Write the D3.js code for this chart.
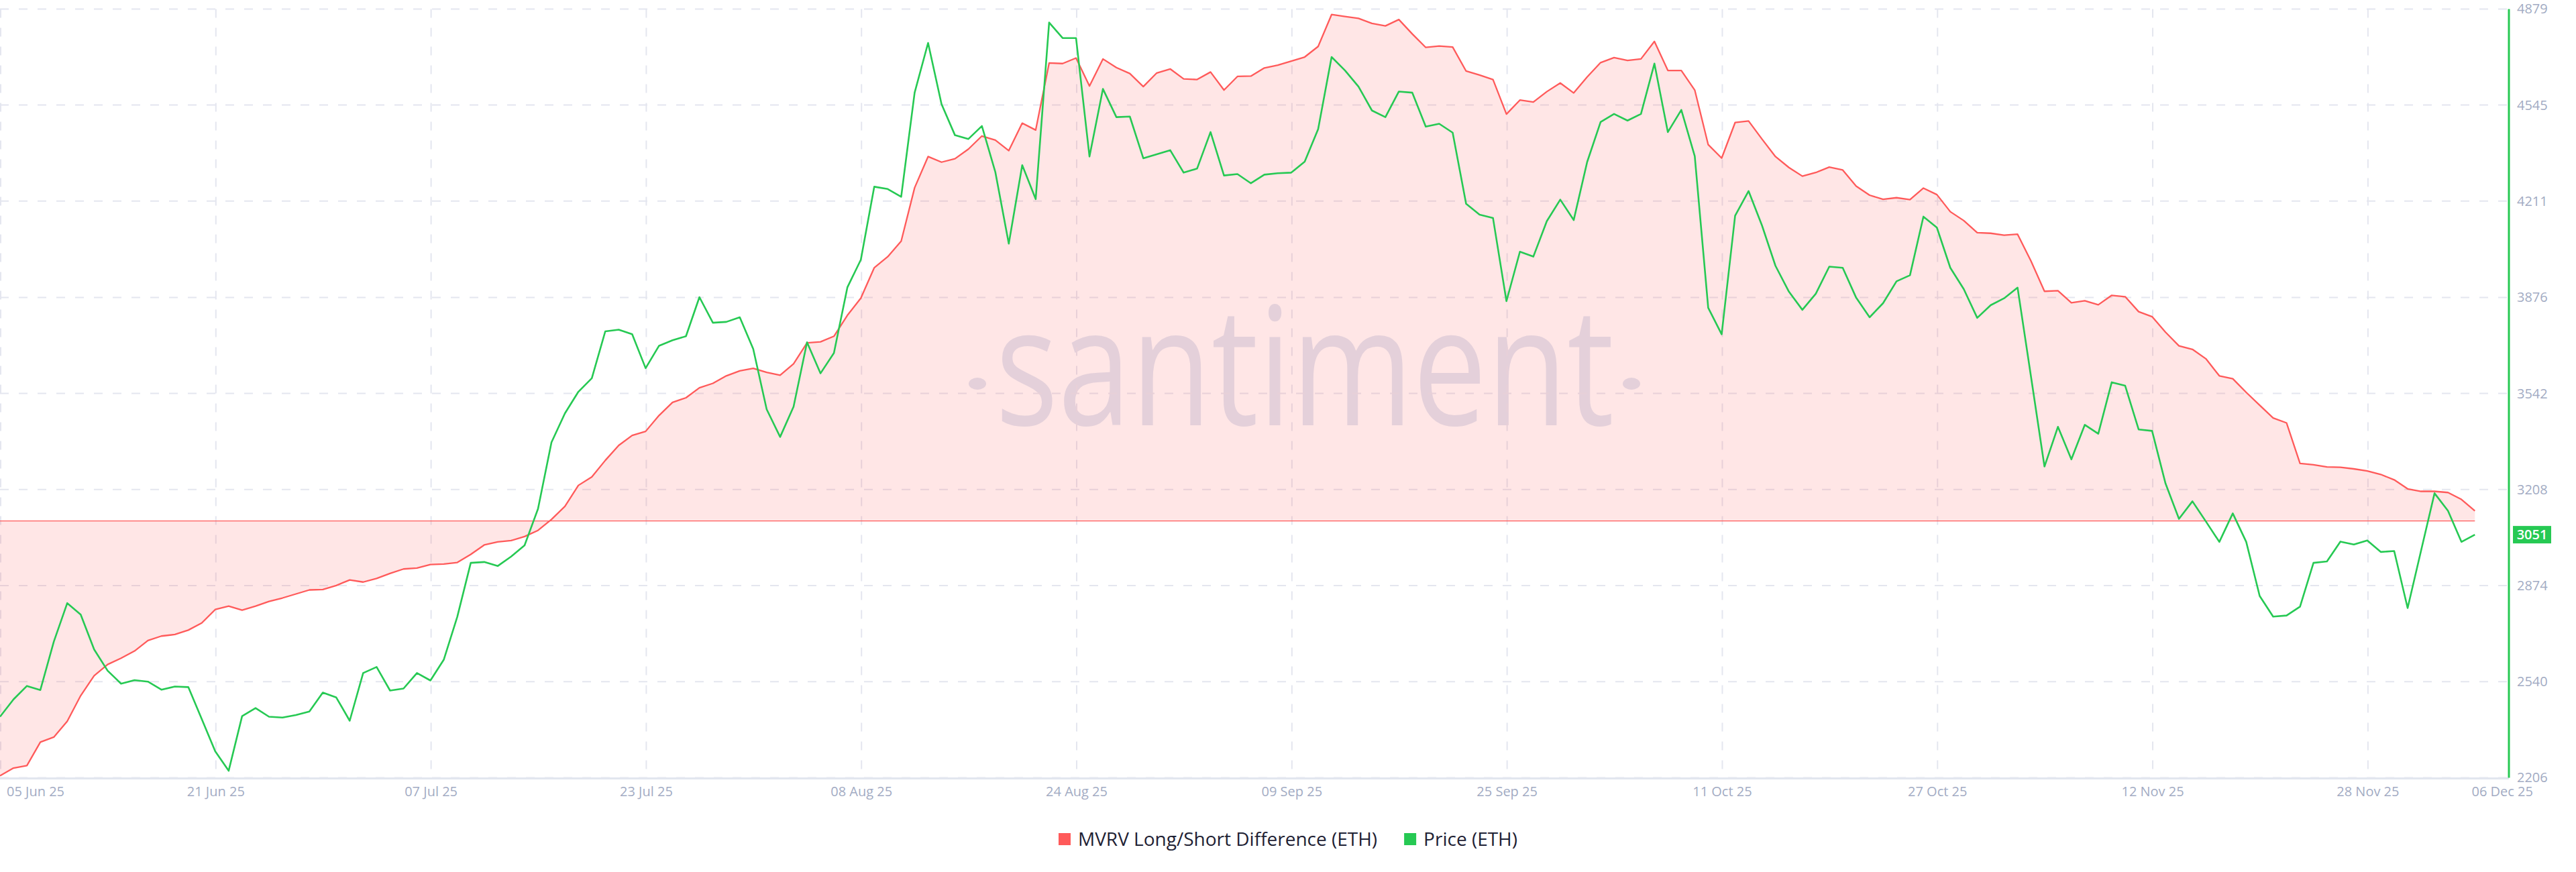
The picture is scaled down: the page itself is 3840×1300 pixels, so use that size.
<!DOCTYPE html>
<html><head><meta charset="utf-8">
<script src="https://cdn.jsdelivr.net/npm/d3@7"></script>
<style>
body{margin:0;background:#fff;}
svg{display:block;font-family:"Open Sans",sans-serif;}
</style>
</head><body>
<svg id="chart" width="3840" height="1300"></svg>
<script>
// ---------- DATA ----------
const startDate = "2025-06-05";   // first daily point
const mvrvLongShort = [
-13.26,-12.86,-12.73,-11.51,-11.25,-10.42,-9.09,-8.05,-7.47,-7.14,
-6.77,-6.22,-5.99,-5.91,-5.68,-5.31,-4.61,-4.43,-4.64,-4.43,
-4.19,-4.01,-3.80,-3.59,-3.57,-3.36,-3.07,-3.18,-2.99,-2.73,
-2.50,-2.45,-2.27,-2.24,-2.16,-1.74,-1.25,-1.09,-1.02,-0.81,
-0.49,0.08,0.76,1.85,2.29,3.15,3.93,4.45,4.66,5.49,
6.17,6.41,6.93,7.16,7.55,7.81,7.94,7.73,7.58,8.18,
9.27,9.32,9.61,10.70,11.59,13.18,13.75,14.56,17.34,18.96,
18.67,18.85,19.35,20.03,19.82,19.27,20.70,20.34,23.83,23.80,
24.09,22.63,24.04,23.59,23.28,22.60,23.31,23.52,23.00,22.97,
23.36,22.42,23.13,23.15,23.57,23.72,23.93,24.14,24.69,26.35,
26.25,26.15,25.89,25.76,26.09,25.34,24.64,24.71,24.66,23.41,
23.20,22.97,21.17,21.90,21.80,22.34,22.79,22.27,23.10,23.85,
24.11,23.96,24.04,24.95,23.44,23.44,22.42,19.58,18.88,20.73,
20.81,19.87,18.96,18.39,17.94,18.13,18.41,18.26,17.42,16.95,
16.74,16.82,16.72,17.32,16.98,16.09,15.63,15.00,14.97,14.87,
14.92,13.52,11.95,11.98,11.35,11.46,11.25,11.74,11.67,10.89,
10.63,9.82,9.11,8.93,8.44,7.55,7.40,6.69,6.02,5.36,
5.10,2.99,2.92,2.81,2.79,2.71,2.60,2.42,2.14,1.67,
1.54,1.54,1.48,1.12,0.52
];
const priceEth = [
2418,2478,2525,2511,2679,2813,2773,2652,2578,2533,
2545,2540,2512,2523,2521,2410,2298,2230,2420,2448,
2418,2415,2424,2436,2502,2485,2404,2570,2591,2509,
2516,2570,2544,2617,2766,2953,2956,2942,2975,3014,
3141,3372,3473,3548,3595,3758,3764,3748,3630,3708,
3727,3741,3877,3788,3791,3807,3697,3487,3391,3496,
3720,3612,3683,3911,4007,4261,4253,4226,4588,4761,
4548,4440,4427,4472,4312,4063,4336,4218,4832,4778,
4778,4366,4601,4503,4505,4360,4374,4388,4310,4324,
4451,4300,4305,4273,4303,4308,4310,4348,4461,4712,
4665,4609,4526,4503,4592,4588,4470,4480,4449,4202,
4164,4152,3863,4035,4018,4141,4216,4145,4347,4486,
4514,4491,4514,4689,4451,4528,4367,3840,3748,4160,
4246,4126,3986,3896,3833,3889,3983,3979,3875,3807,
3856,3932,3953,4157,4119,3979,3905,3805,3849,3873,
3910,3600,3288,3426,3313,3433,3402,3581,3569,3417,
3412,3229,3106,3167,3097,3026,3125,3026,2838,2766,
2770,2801,2953,2958,3027,3017,3031,2991,2994,2796,
2996,3195,3134,3026,3051
];
const priceTicks = [2206, 2540, 2874, 3208, 3542, 3876, 4211, 4545, 4879];
const dateTickLabels = ["05 Jun 25","21 Jun 25","07 Jul 25","23 Jul 25","08 Aug 25","24 Aug 25",
  "09 Sep 25","25 Sep 25","11 Oct 25","27 Oct 25","12 Nov 25","28 Nov 25"];
const endDateLabel = "06 Dec 25";
const seriesNames = ["MVRV Long/Short Difference (ETH)", "Price (ETH)"];
const seriesColors = ["#ff5a5a", "#26c953"];

// ---------- SETUP ----------
const svg = d3.select("#chart");
const W = 3840;
const plotLeft = 0, plotRight = 3740, plotTop = 13.4, plotBottom = 1159.4;
const parseDay = d3.utcParse("%Y-%m-%d");
const parseTick = d3.utcParse("%d %b %y");
const start = parseDay(startDate);
const dates = priceEth.map((_, i) => d3.utcDay.offset(start, i));
const xEnd = new Date(+start + 186.53 * 864e5);

const x = d3.scaleUtc().domain([start, xEnd]).range([plotLeft, plotRight]);
const yP = d3.scaleLinear().domain([2206, 4879]).range([plotBottom, plotTop]);
const yM = d3.scaleLinear().domain([-13.36, 26.64]).range([plotBottom, plotTop]);

const gridColor = "#e4e6ef";
const labelColor = "#a2abc3";

svg.append("rect").attr("width", W).attr("height", 1300).attr("fill", "#fff");

// watermark (under translucent area)
const wm = svg.append("g").attr("fill", "#e0e6f1");
wm.append("text").attr("x", 1484).attr("y", 634)
  .attr("font-size", 245).attr("font-family", "'Open Sans', sans-serif")
  .attr("textLength", 922).attr("lengthAdjust", "spacingAndGlyphs")
  .text("santiment");
wm.append("ellipse").attr("cx", 1457).attr("cy", 572).attr("rx", 13).attr("ry", 9);
wm.append("ellipse").attr("cx", 2432).attr("cy", 572).attr("rx", 13).attr("ry", 9);

// horizontal grid
svg.append("g").selectAll("line").data(priceTicks).join("line")
  .attr("x1", plotLeft).attr("x2", plotRight)
  .attr("y1", d => yP(d)).attr("y2", d => yP(d))
  .attr("stroke", gridColor).attr("stroke-width", 2).attr("stroke-dasharray", "13 15");

// vertical grid
const tickDates = dateTickLabels.map(s => parseTick(s));
svg.append("g").selectAll("line").data(tickDates).join("line")
  .attr("x1", d => x(d) + 1).attr("x2", d => x(d) + 1)
  .attr("y1", plotTop).attr("y2", 1150)
  .attr("stroke", gridColor).attr("stroke-width", 2).attr("stroke-dasharray", "13 15");

// area for MVRV
const area = d3.area().x((d, i) => x(dates[i])).y0(yM(0)).y1(d => yM(d));
svg.append("path").datum(mvrvLongShort).attr("d", area)
  .attr("fill", seriesColors[0]).attr("fill-opacity", 0.15);

// zero line
svg.append("line")
  .attr("x1", x(dates[0])).attr("x2", x(dates[dates.length - 1]))
  .attr("y1", yM(0)).attr("y2", yM(0))
  .attr("stroke", seriesColors[0]).attr("stroke-width", 1.3);

// x axis baseline
svg.append("line").attr("x1", plotLeft).attr("x2", plotRight)
  .attr("y1", 1160.5).attr("y2", 1160.5).attr("stroke", "#e2e6ef").attr("stroke-width", 3);

// lines
const lineM = d3.line().x((d, i) => x(dates[i])).y(d => yM(d));
const lineP = d3.line().x((d, i) => x(dates[i])).y(d => yP(d));
svg.append("path").datum(mvrvLongShort).attr("d", lineM)
  .attr("fill", "none").attr("stroke", seriesColors[0]).attr("stroke-width", 2.3)
  .attr("stroke-linejoin", "round");
svg.append("path").datum(priceEth).attr("d", lineP)
  .attr("fill", "none").attr("stroke", seriesColors[1]).attr("stroke-width", 2.6)
  .attr("stroke-linejoin", "round");

// right axis (price)
svg.append("line").attr("x1", plotRight).attr("x2", plotRight)
  .attr("y1", plotTop).attr("y2", plotBottom)
  .attr("stroke", seriesColors[1]).attr("stroke-width", 3);
svg.append("g").selectAll("text").data(priceTicks).join("text")
  .attr("x", 3752).attr("y", d => yP(d)).attr("dy", "0.35em")
  .attr("font-size", 20).attr("fill", labelColor)
  .text(d => d);

// last value badge
const lastPrice = priceEth[priceEth.length - 1];
svg.append("rect").attr("x", 3746).attr("y", yP(lastPrice) - 13)
  .attr("width", 57).attr("height", 26).attr("fill", seriesColors[1]);
svg.append("text").attr("x", 3774.5).attr("y", yP(lastPrice)).attr("dy", "0.35em")
  .attr("text-anchor", "middle").attr("font-size", 20).attr("font-weight", 600)
  .attr("fill", "#fff").text(lastPrice);

// x labels
const fmt = d3.utcFormat("%d %b %y");
svg.append("g").selectAll("text").data(tickDates).join("text")
  .attr("x", (d, i) => i === 0 ? 10 : x(d) + 1)
  .attr("y", 1180).attr("dy", "0.35em")
  .attr("text-anchor", (d, i) => i === 0 ? "start" : "middle")
  .attr("font-size", 20).attr("fill", labelColor)
  .text(d => fmt(d));
svg.append("text").attr("x", 3776).attr("y", 1180).attr("dy", "0.35em")
  .attr("text-anchor", "end").attr("font-size", 20).attr("fill", labelColor)
  .text(endDateLabel);

// legend
const leg = svg.append("g");
let cur = 0;
seriesNames.forEach((name, i) => {
  const g = leg.append("g");
  g.append("rect").attr("x", cur).attr("y", -9).attr("width", 18).attr("height", 18)
    .attr("fill", seriesColors[i]);
  const t = g.append("text").attr("x", cur + 29).attr("y", 0).attr("dy", "0.35em")
    .attr("font-size", 28).attr("fill", "#1e2133").text(name);
  const w = t.node().getComputedTextLength();
  cur += 29 + w + 40;
});
const legW = cur - 40;
leg.attr("transform", `translate(${W / 2 - legW / 2},1251)`);
</script>
</body></html>
